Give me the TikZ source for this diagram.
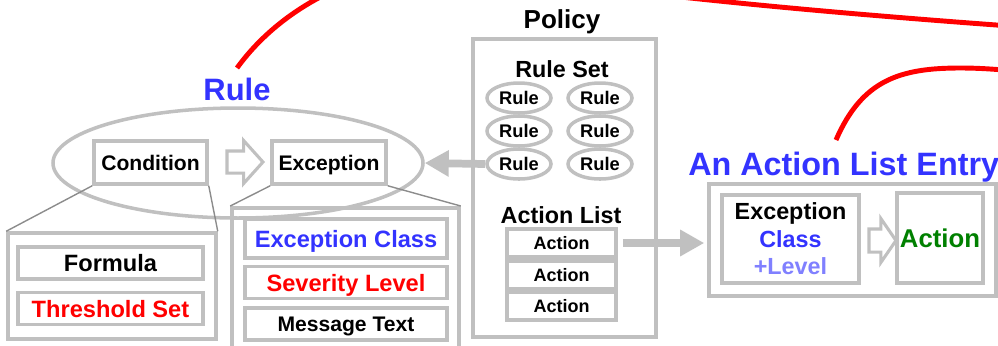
\documentclass[tikz,border=0pt]{standalone}
\usepackage{fontspec}
\setmainfont{Liberation Sans}
\usetikzlibrary{positioning}
\usetikzlibrary{shapes.geometric}
\usetikzlibrary{shapes.arrows}
\usetikzlibrary{arrows.meta}

\newdimen\pxu
\pxu=0.025cm

\definecolor{boxgray}{HTML}{C0C0C0}
\definecolor{linkgray}{HTML}{8C8C8C}
\definecolor{titleblue}{HTML}{3333FF}
\definecolor{levelblue}{HTML}{8080FF}
\definecolor{actiongreen}{HTML}{008000}

\tikzset {
  % grey frame around a group of fields
  group box/.style = {
    draw = boxgray,
    line width = 2.5pt,
    rectangle,
    inner sep = 0
  },
  % one field inside a group, capitals centred
  field box/.style = {
    group box,
    text height = 12.1pt,
    text depth = 0pt,
    font = \fontsize{16.8}{20}\selectfont\bfseries
  },
  % the two parts of a rule
  part box/.style = {
    field box,
    text height = 10.8pt,
    minimum width = 113\pxu,
    minimum height = 43\pxu,
    font = \fontsize{15}{18}\selectfont\bfseries
  },
  % small rule inside the policy
  rule bubble/.style = {
    ellipse,
    draw = boxgray,
    line width = 2.5pt,
    inner sep = 0,
    text height = 9.4pt,
    text depth = 0pt,
    minimum width = 64\pxu,
    minimum height = 30\pxu,
    font = \fontsize{13}{15}\selectfont\bfseries
  },
  % action inside the action list
  list item/.style = {
    field box,
    text height = 9.2pt,
    minimum width = 109\pxu,
    minimum height = 28\pxu,
    font = \fontsize{12.8}{15}\selectfont\bfseries
  },
  block title/.style = {
    text = titleblue,
    inner sep = 0,
    font = \fontsize{22}{26}\selectfont\bfseries
  },
  heading/.style = {
    inner sep = 0,
    font = \fontsize{18.5}{22}\selectfont\bfseries
  },
  subheading/.style = {
    inner sep = 0,
    font = \fontsize{16.6}{20}\selectfont\bfseries
  },
  % white arrow between two parts
  hollow arrow/.style = {
    single arrow,
    draw = boxgray,
    line width = 2.2pt,
    fill = white,
    inner sep = 0,
    text depth = 0pt,
    single arrow head indent = 0pt
  },
  % thick grey arrow
  fat arrow/.style = {
    draw = boxgray,
    line width = 5.5pt,
    -{Triangle[length = 0.6cm, width = 0.625cm]}
  },
  zoom line/.style = {
    draw = linkgray,
    line width = 1pt
  },
  link/.style = {
    draw = red,
    line width = 3.5pt
  }
}

\begin{document}
\begin{tikzpicture}[x = 0.025cm, y = -0.025cm]
  \useasboundingbox (0,0) rectangle (998,345);
  \clip (0,0) rectangle (998,345);

  % the rule
  \node[ellipse, draw = boxgray, line width = 2.5pt, inner sep = 0,
    minimum width = 370\pxu, minimum height = 110\pxu] (rule) at (238,163) {};
  \node[block title, anchor = base] (rule-title) at (237,100) {Rule};
  \node[part box] (condition) at (150.5,162.5) {Condition};
  \node[part box, minimum width = 114\pxu] (exception) at (329,162.5) {Exception};
  \node[hollow arrow, text height = 19\pxu, minimum height = 36\pxu,
    single arrow head extend = 10.5\pxu, single arrow tip angle = 96]
    (rule-then) at (240,162) {};

  \node[group box, minimum width = 208\pxu, minimum height = 106\pxu]
    (condition-detail) at (112,286) {};
  \node[field box, minimum width = 185\pxu, minimum height = 32\pxu]
    (formula) at (110.5,263) {Formula};
  \node[field box, text = red, minimum width = 185\pxu, minimum height = 32\pxu]
    (threshold) [below = 10\pxu of formula] {Threshold Set};

  \node[group box, minimum width = 227\pxu, minimum height = 170\pxu, anchor = north]
    (exception-detail) at (345.5,206) {};
  \node[field box, text = titleblue, minimum width = 202\pxu, minimum height = 39\pxu]
    (exception-class) at (346,238.5) {Exception Class};
  \node[field box, text = red, minimum width = 202\pxu, minimum height = 32\pxu]
    (severity) [below = 5\pxu of exception-class] {Severity Level};
  \node[field box, text height = 10.8pt, font = \fontsize{15}{18}\selectfont\bfseries,
    minimum width = 202\pxu, minimum height = 32\pxu]
    (message) [below = 6\pxu of severity] {Message Text};

  \draw[zoom line] (condition.south west) -- (condition-detail.north west);
  \draw[zoom line] (condition.south east) -- (condition-detail.north east);
  \draw[zoom line] (exception.south west) -- (exception-detail.north west);
  \draw[zoom line] (exception.south east) -- (exception-detail.north east);

  % the policy
  \node[heading, anchor = base] (policy-title) at (562,28) {Policy};
  \node[group box, minimum width = 183\pxu, minimum height = 298\pxu]
    (policy) at (564.5,188) {};
  \node[subheading, anchor = base] (rule-set) at (562,77) {Rule Set};
  \foreach \r/\y in {1/98, 2/131, 3/164} {
    \node[rule bubble] (rule-\r1) at (519,\y) {Rule};
    \node[rule bubble] (rule-\r2) at (600,\y) {Rule};
  }
  \node[subheading, anchor = base] (action-list) at (561,223) {Action List};
  \foreach \i/\y in {1/243, 2/275, 3/306}
    \node[list item] (action-\i) at (561.5,\y) {Action};

  % the action list entry
  \node[block title, anchor = base west, font = \fontsize{23}{27}\selectfont\bfseries]
    (entry-title) at (688,175) {An Action List Entry};
  \node[group box, minimum width = 287\pxu, minimum height = 112\pxu]
    (entry) at (852.5,240) {};
  \node[group box, minimum width = 137\pxu, minimum height = 88\pxu, align = center,
    font = \fontsize{16.6}{19.6}\selectfont\bfseries]
    (entry-exception) at (790.5,239)
    {Exception\\\textcolor{titleblue}{Class}\\\textcolor{levelblue}{+Level}};
  \node[hollow arrow, text height = 20\pxu, minimum height = 27\pxu,
    single arrow head extend = 10.5\pxu, single arrow tip angle = 111]
    (entry-then) at (878.5,240.5) {};
  \node[group box, text = actiongreen, font = \fontsize{18.3}{22}\selectfont\bfseries,
    text height = 13.2pt, text depth = 0pt,
    minimum width = 86\pxu, minimum height = 90\pxu]
    (entry-action) at (940,238) {Action};

  \draw[fat arrow] (rule-31.west) -- (rule.east);
  \draw[fat arrow, shorten <= 5\pxu, shorten >= 3\pxu]
    (action-1.east) -- (action-1.east -| entry.west);

  % red links leaving the picture
  \coordinate (rule-link) at (237,68);
  \coordinate (entry-link) at (836,140);
  \draw[link] (rule-link)
    .. controls (290,-5) and (400,-60) .. (560,-30)
    .. controls (590,-22) and (605,-13) .. (620,-10)
    .. controls (670,-4) and (790,10) .. (1010,26);
  \draw[link] (entry-link)
    .. controls (862,80) and (900,68) .. (960,68)
    .. controls (985,68) and (1000,70) .. (1020,71);
\end{tikzpicture}
\end{document}
